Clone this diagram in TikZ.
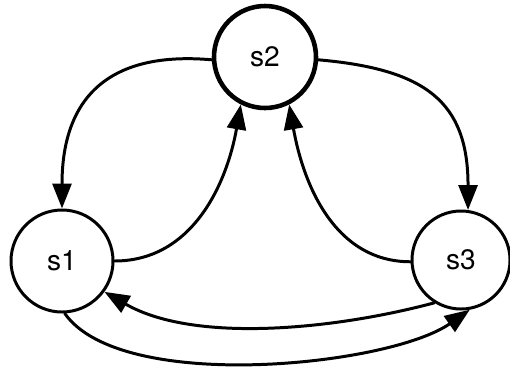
\documentclass[tikz,border=0pt]{standalone}
\usepackage{fontspec}
\setsansfont{TeX Gyre Heros}
\usetikzlibrary{
  arrows.meta,              % Triangle 箭头样式
  positioning               % 节点相对定位
}

\begin{document}
\begin{tikzpicture}[>={Triangle[length=0.5cm, width=0.38cm]}, line join=round, line cap=round]
  % 统一设置：状态圆圈与转移箭头
  \tikzset{
    state/.style={circle, draw=black, line width=1.7pt, inner sep=0pt,
      minimum size=2.04cm, font=\sffamily\fontsize{16}{18}\selectfont},
    start state/.style={state, line width=2.6pt},
    edge/.style={->, line width=1.7pt, draw=black}
  }

  % 固定画布大小
  \useasboundingbox (0, 0) rectangle (10.2, 7.32);

  % =======================
  % 三个状态
  % =======================
  \node[start state] (s2) at (5.30, 6.18) {s2};      % 上方
  \node[state] (s1) at (1.24, 2.10) {s1};            % 左下
  \node[state, minimum size=1.96cm] (s3) at (9.22, 2.12) {s3}; % 右下

  % =======================
  % 转移
  % =======================
  % 从 s2 向两侧下行
  \draw[edge] (s2.183) to[out=175, in=90, looseness=1.3] (s1.north);
  \draw[edge] (s2.-3) to[out=-5, in=90, looseness=1.3] (s3.82);

  % 两个下方状态返回 s2
  \draw[edge] (s1.east) to[out=0, in=-100] (s2.243);
  \draw[edge] (s3.182) to[out=180, in=-80] (s2.297);

  % s1 与 s3 之间的往返
  \draw[edge] (s3.238) to[out=195, in=-30, looseness=0.8] (s1.-36);
  \draw[edge] (s1.273) to[out=-55, in=-145, looseness=0.62] (s3.280);

\end{tikzpicture}
\end{document}
